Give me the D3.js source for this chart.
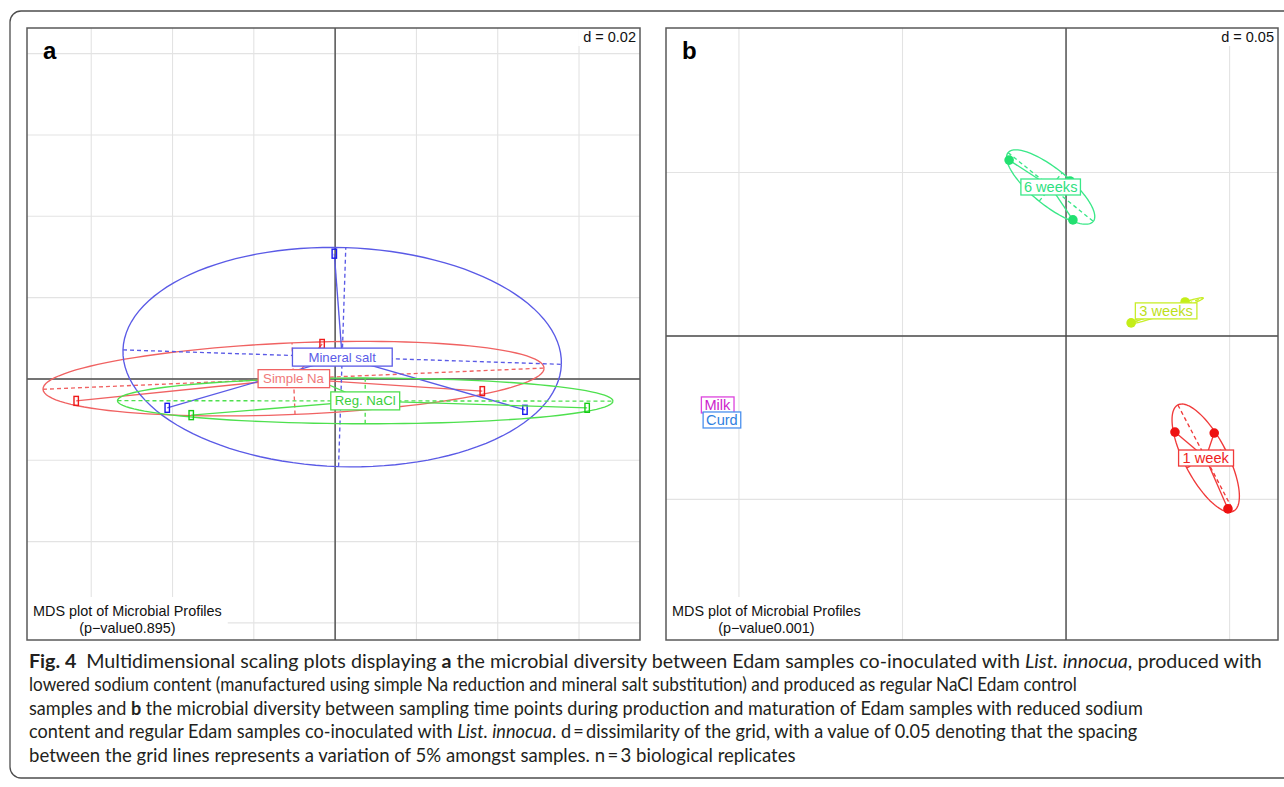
<!DOCTYPE html>
<html>
<head>
<meta charset="utf-8">
<script src="https://cdn.jsdelivr.net/npm/d3@7"></script>
<style>
  body { margin: 0; background: #fff; }
  svg { display: block; }
</style>
</head>
<body>
<svg id="fig" width="1284" height="787"></svg>
<script>
// ---------------- data: MDS coordinates of each sample ----------------
// Panel a: salt treatments
const groupsA = ["Simple Na", "Mineral salt", "Reg. NaCl"];
const simpleNaX   = [-0.0637, -0.0032, 0.0362];
const simpleNaY   = [-0.0054,  0.0086, -0.0030];
const mineralX    = [-0.0002, -0.0413, 0.0467];
const mineralY    = [ 0.0308, -0.0071, -0.0076];
const regNaClX    = [-0.0354,  0.0620, -0.0044];
const regNaClY    = [-0.0089, -0.0071, -0.0002];

// Panel b: sampling time points
const groupsB = ["Milk", "Curd", "1 week", "3 weeks", "6 weeks"];
const milkX   = [-0.1066];
const milkY   = [-0.0211];
const curdX   = [-0.1052];
const curdY   = [-0.0257];
const week1X  = [0.0333, 0.0453, 0.0495];
const week1Y  = [-0.0294, -0.0297, -0.0529];
const week3X  = [0.0199, 0.0364, 0.0355];
const week3Y  = [0.0040, 0.0104, 0.0086];
const week6X  = [-0.0174, 0.0021, 0.0012];
const week6Y  = [0.0538, 0.0355, 0.0474];

// grid spacing (d) and p-values
const gridD   = [0.02, 0.05];
const pValues = ["0.895", "0.001"];
const panelLetters = ["a", "b"];

// ---------------- helpers ----------------
const svg = d3.select("#fig");
const FONT = "'Liberation Sans', Arial, Helvetica, sans-serif";

function groupStats(xs, ys) {
  const n = xs.length;
  const mx = d3.mean(xs), my = d3.mean(ys);
  let sxx = 0, syy = 0, sxy = 0;
  for (let i = 0; i < n; i++) {
    const dx = xs[i] - mx, dy = ys[i] - my;
    sxx += dx * dx; syy += dy * dy; sxy += dx * dy;
  }
  sxx /= n; syy /= n; sxy /= n;
  // eigen decomposition of the 2x2 covariance matrix
  const tr = sxx + syy, det = sxx * syy - sxy * sxy;
  const disc = Math.sqrt(Math.max(tr * tr / 4 - det, 0));
  const l1 = tr / 2 + disc, l2 = Math.max(tr / 2 - disc, 0);
  let v1;
  if (Math.abs(sxy) > 1e-14) v1 = [l1 - syy, sxy];
  else v1 = sxx >= syy ? [1, 0] : [0, 1];
  const nv = Math.hypot(v1[0], v1[1]);
  v1 = [v1[0] / nv, v1[1] / nv];
  const v2 = [-v1[1], v1[0]];
  return { mx, my, l1, l2, v1, v2, n };
}

function drawPanel(cfg) {
  const g = svg.append("g");
  const x = d3.scaleLinear().domain(cfg.xDomain).range([cfg.left, cfg.right]);
  const y = d3.scaleLinear().domain(cfg.yDomain).range([cfg.bottom, cfg.top]);
  const d = cfg.d;

  // background grid
  const gx = d3.range(Math.ceil(cfg.xDomain[0] / d), Math.floor(cfg.xDomain[1] / d) + 1).map(k => k * d);
  const gy = d3.range(Math.ceil(cfg.yDomain[0] / d), Math.floor(cfg.yDomain[1] / d) + 1).map(k => k * d);
  g.selectAll(".gx").data(gx).join("line")
    .attr("x1", v => x(v)).attr("x2", v => x(v))
    .attr("y1", cfg.top).attr("y2", cfg.bottom)
    .attr("stroke", "#e3e3e3").attr("stroke-width", 1.1);
  g.selectAll(".gy").data(gy).join("line")
    .attr("x1", cfg.left).attr("x2", cfg.right)
    .attr("y1", v => y(v)).attr("y2", v => y(v))
    .attr("stroke", "#e3e3e3").attr("stroke-width", 1.1);

  // origin axes
  g.append("line").attr("x1", x(0)).attr("x2", x(0)).attr("y1", cfg.top).attr("y2", cfg.bottom)
    .attr("stroke", "#4a4a4a").attr("stroke-width", 1.4);
  g.append("line").attr("x1", cfg.left).attr("x2", cfg.right).attr("y1", y(0)).attr("y2", y(0))
    .attr("stroke", "#4a4a4a").attr("stroke-width", 1.4);

  // grid scale label, top right
  const dText = g.append("text").attr("x", cfg.right - 4).attr("y", cfg.top + 14)
    .attr("text-anchor", "end").attr("font-family", FONT).attr("font-size", 14.5)
    .attr("fill", "#111").text("d = " + d);
  const db = dText.node().getBBox();
  g.insert("rect", "text").attr("x", db.x - 5).attr("y", cfg.top).attr("width", cfg.right - db.x + 5)
    .attr("height", db.y + db.height - cfg.top + 1).attr("fill", "#fff");

  const cell = 1.5;
  const marks = g.append("g");
  const labels = g.append("g");

  cfg.groups.forEach(grp => {
    const st = groupStats(grp.xs, grp.ys);
    const col = grp.line;
    if (st.n > 1) {
      const a = cell * Math.sqrt(st.l1), b = cell * Math.sqrt(st.l2);
      const pts = d3.range(0, 361, 3).map(t => {
        const r = t * Math.PI / 180;
        return [x(st.mx + a * Math.cos(r) * st.v1[0] + b * Math.sin(r) * st.v2[0]),
                y(st.my + a * Math.cos(r) * st.v1[1] + b * Math.sin(r) * st.v2[1])];
      });
      marks.append("path").attr("d", d3.line()(pts)).attr("fill", "none")
        .attr("stroke", col).attr("stroke-width", 1.35);
      // dashed ellipse axes
      [[a, st.v1], [b, st.v2]].forEach(([r, v]) => {
        if (r <= 0) return;
        marks.append("line")
          .attr("x1", x(st.mx - r * v[0])).attr("y1", y(st.my - r * v[1]))
          .attr("x2", x(st.mx + r * v[0])).attr("y2", y(st.my + r * v[1]))
          .attr("stroke", col).attr("stroke-width", 1.35).attr("stroke-dasharray", "4,3");
      });
      // star from centroid to each sample
      grp.xs.forEach((xv, i) => {
        marks.append("line").attr("x1", x(st.mx)).attr("y1", y(st.my))
          .attr("x2", x(xv)).attr("y2", y(grp.ys[i]))
          .attr("stroke", col).attr("stroke-width", 1.35);
      });
    }
    // sample points
    grp.xs.forEach((xv, i) => {
      if (cfg.marker === "rect") {
        marks.append("rect").attr("x", x(xv) - 2.2).attr("y", y(grp.ys[i]) - 4.5)
          .attr("width", 4.4).attr("height", 9).attr("fill", "none")
          .attr("stroke", grp.point).attr("stroke-width", 1.4);
      } else {
        marks.append("circle").attr("cx", x(xv)).attr("cy", y(grp.ys[i])).attr("r", 4.8)
          .attr("fill", grp.point);
      }
    });
    // group label at centroid
    const cx = x(st.mx), cy = y(st.my);
    const t = labels.append("text").attr("x", cx).attr("y", cy)
      .attr("text-anchor", "middle").attr("dominant-baseline", "central")
      .attr("font-family", FONT).attr("font-size", cfg.labelSize)
      .attr("fill", grp.text).text(grp.name);
    const bb = t.node().getBBox();
    const px = grp.pad != null ? grp.pad : 4;
    labels.insert("rect", () => t.node())
      .attr("x", bb.x - px).attr("y", cy - cfg.labelBox / 2)
      .attr("width", bb.width + 2 * px).attr("height", cfg.labelBox)
      .attr("fill", "#fff").attr("stroke", grp.line).attr("stroke-width", 1.3);
  });

  // panel letter
  g.append("text").attr("x", cfg.left + 16).attr("y", cfg.top + 31)
    .attr("font-family", FONT).attr("font-weight", "bold").attr("font-size", 24)
    .attr("fill", "#000").text(cfg.letter);

  // subtitle box bottom left
  const sub = g.append("g");
  const s1 = sub.append("text").attr("x", cfg.left + 6).attr("y", cfg.bottom - 24)
    .attr("font-family", FONT).attr("font-size", 14.4).attr("fill", "#111")
    .text("MDS plot of Microbial Profiles");
  const w1 = s1.node().getComputedTextLength();
  sub.append("text").attr("x", cfg.left + 6 + w1 / 2).attr("y", cfg.bottom - 7)
    .attr("text-anchor", "middle")
    .attr("font-family", FONT).attr("font-size", 14.4).attr("fill", "#111")
    .text("(p\u2212value" + cfg.p + ")");
  sub.insert("rect", "text").attr("x", cfg.left).attr("y", cfg.bottom - 43)
    .attr("width", w1 + 12).attr("height", 43).attr("fill", "#fff");

  // panel frame
  g.append("rect").attr("x", cfg.left).attr("y", cfg.top)
    .attr("width", cfg.right - cfg.left).attr("height", cfg.bottom - cfg.top)
    .attr("fill", "none").attr("stroke", "#5a5a5a").attr("stroke-width", 1.5);
}

// outer figure frame
svg.append("rect").attr("x", 10).attr("y", 11).attr("width", 1300).attr("height", 767)
  .attr("rx", 11).attr("fill", "none").attr("stroke", "#4d4d4d").attr("stroke-width", 1.3);

drawPanel({
  left: 27, right: 640, top: 28, bottom: 640,
  xDomain: [-0.0758, 0.0750], yDomain: [-0.0642, 0.0863],
  d: gridD[0], p: pValues[0], letter: panelLetters[0],
  marker: "rect", labelSize: 13.2, labelBox: 18,
  groups: [
    { name: groupsA[0], xs: simpleNaX, ys: simpleNaY, line: "#f06262", point: "#ee1a1a", text: "#f07a7a", pad: 5 },
    { name: groupsA[1], xs: mineralX,  ys: mineralY,  line: "#5a5ae6", point: "#1a1aee", text: "#5c5ce8", pad: 16 },
    { name: groupsA[2], xs: regNaClX,  ys: regNaClY,  line: "#4ee04e", point: "#14cc14", text: "#3ccf3c", pad: 4 }
  ]
});

drawPanel({
  left: 666, right: 1278, top: 28, bottom: 640,
  xDomain: [-0.1223, 0.0648], yDomain: [-0.0930, 0.0942],
  d: gridD[1], p: pValues[1], letter: panelLetters[1],
  marker: "circle", labelSize: 14.6, labelBox: 16,
  groups: [
    { name: groupsB[0], xs: milkX,  ys: milkY,  line: "#dd44dd", point: "#dd22dd", text: "#cc22cc", pad: 3 },
    { name: groupsB[1], xs: curdX,  ys: curdY,  line: "#4a90ee", point: "#3388ee", text: "#2f7fe0", pad: 3 },
    { name: groupsB[2], xs: week1X, ys: week1Y, line: "#f03a3a", point: "#ee1111", text: "#ee2222", pad: 4 },
    { name: groupsB[3], xs: week3X, ys: week3Y, line: "#c8ee2a", point: "#c4ee18", text: "#bde01a", pad: 4 },
    { name: groupsB[4], xs: week6X, ys: week6Y, line: "#3ae888", point: "#22e070", text: "#2fdf7f", pad: 3 }
  ]
});

// ---------------- caption ----------------
const capLines = [
  [["Fig. 4", "b"], ["\u2002Multidimensional scaling plots displaying ", ""], ["a", "b"],
   [" the microbial diversity between Edam samples co-inoculated with ", ""], ["List. innocua", "i"], [", produced with", ""]],
  [["lowered sodium content (manufactured using simple Na reduction and mineral salt substitution) and produced as regular NaCl Edam control", ""]],
  [["samples and ", ""], ["b", "b"], [" the microbial diversity between sampling time points during production and maturation of Edam samples with reduced sodium", ""]],
  [["content and regular Edam samples co-inoculated with ", ""], ["List. innocua", "i"],
   [". d\u2009=\u2009dissimilarity of the grid, with a value of 0.05 denoting that the spacing", ""]],
  [["between the grid lines represents a variation of 5% amongst samples. n\u2009=\u20093 biological replicates", ""]]
];
const capEnds = [1262, 1077, 1143, 1137, 796];
const capX = 29;
const capY0 = 668, capStep = 23.4;

capLines.forEach((parts, i) => {
  const t = svg.append("text").attr("font-family", "Lato, 'Open Sans', sans-serif")
    .attr("font-size", 19.2).attr("fill", "#231f20");
  parts.forEach(([s, st]) => {
    t.append("tspan").text(s)
      .attr("font-weight", st === "b" ? "bold" : null)
      .attr("font-style", st === "i" ? "italic" : null);
  });
  const w = t.node().getComputedTextLength();
  const k = (capEnds[i] - capX) / w;
  t.attr("transform", `translate(${capX},${capY0 + i * capStep}) scale(${k},1)`);
});
</script>
</body>
</html>
